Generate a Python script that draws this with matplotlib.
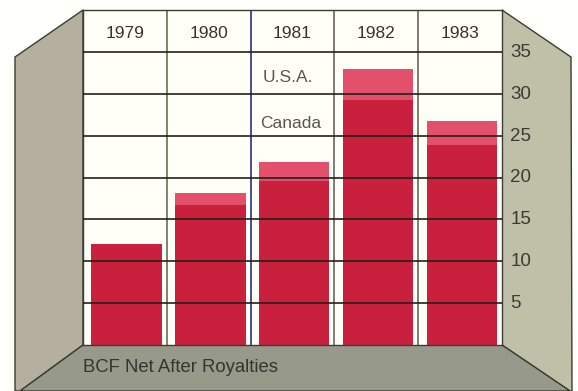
#!/usr/bin/env python3
"""Gas production by year, stacked Canada / U.S.A., drawn as a room-style chart."""

import numpy as np

import matplotlib
matplotlib.use("Agg")
import matplotlib.pyplot as plt
from matplotlib.patches import Polygon
from matplotlib.transforms import ScaledTranslation

plt.rcParams["font.family"] = ["Liberation Sans", "DejaVu Sans"]

years = ["1979", "1980", "1981", "1982", "1983"]
canada = [12.1, 16.7, 19.6, 29.2, 23.9]
usa = [0.0, 1.5, 2.3, 3.7, 2.9]
y_ticks = [5, 10, 15, 20, 25, 30, 35]

W, H = 578, 391
fig = plt.figure(figsize=(W / 100, H / 100), dpi=100, facecolor="#fffffb")

# Room walls and floor, in pixel coordinates
room = fig.add_axes([0, 0, 1, 1])
room.set_xlim(0, W)
room.set_ylim(H, 0)
room.axis("off")
edge = "#3a3d30"
room.add_patch(Polygon([(83, 10), (15, 57), (15, 391), (20, 391), (83, 345)],
                       fc="#b4af9f", ec=edge, lw=1.0))
room.add_patch(Polygon([(502, 10), (571, 57), (572, 391), (570, 391), (502, 345)],
                       fc="#bfc0a7", ec=edge, lw=1.0))
room.add_patch(Polygon([(83, 345), (502, 345), (570, 391), (20, 391)],
                       fc="#979a8b", ec=edge, lw=1.0))
room.text(83, 368, "BCF Net After Royalties", fontsize=13.3, color="#33352e",
          ha="left", va="center")

# Back wall holds the real chart
ax = fig.add_axes([83 / W, 1 - 345 / H, 419 / W, 335 / H])
ax.set_facecolor("#fffff8")
ax.set_xlim(-0.5, 4.5)
ax.set_ylim(0, 40)

x = np.arange(len(years))
bar_x = x + 0.02  # bars sit a little right of the column centres
ax.bar(bar_x, canada, width=0.84, color="#c9203e", zorder=2)
ax.bar(bar_x, usa, width=0.84, bottom=canada, color="#e2506c", zorder=2)

for b, col in zip(x[:-1] + 0.5, ["#66705a", "#2c2f80", "#66685a", "#66685a"]):
    ax.axvline(b, color=col, lw=1.2, zorder=1)
for t in y_ticks:
    ax.axhline(t, color="#23211c", lw=1.2, zorder=3)

for xi, year in zip(x, years):
    ax.text(xi, 37.2, year, fontsize=12.5, color="#33352e", ha="center", va="center")

ax.text(1.94, 32.0, "U.S.A.", fontsize=12.5, color="#55584a", ha="center", va="center")
ax.text(1.98, 26.4, "Canada", fontsize=12.5, color="#55584a", ha="center", va="center")

ax.set_xticks([])
ax.yaxis.tick_right()
ax.set_yticks(y_ticks)
ax.tick_params(axis="y", length=0, pad=6, labelsize=13.5, labelcolor="#3a3c33")
nudge = ScaledTranslation(0, 1.5 / 100, fig.dpi_scale_trans)
for label in ax.get_yticklabels():
    label.set_transform(label.get_transform() + nudge)
for side in ax.spines.values():
    side.set_color(edge)
    side.set_linewidth(1.0)

fig.savefig("out.png", dpi=100, facecolor=fig.get_facecolor())
